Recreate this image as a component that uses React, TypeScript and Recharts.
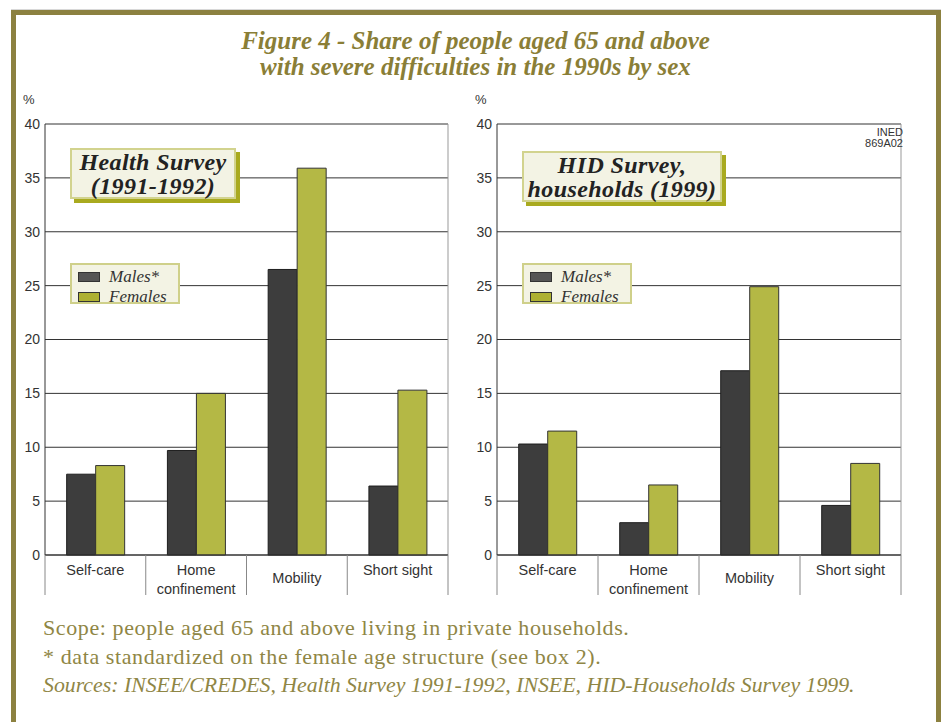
import React from "react";
import { BarChart, Bar, XAxis, YAxis, CartesianGrid, Legend } from "recharts";

const categories = ["Self-care", "Home confinement", "Mobility", "Short sight"];
const healthMales = [7.5, 9.7, 26.5, 6.4];
const healthFemales = [8.3, 15.0, 35.9, 15.3];
const hidMales = [10.3, 3.0, 17.1, 4.6];
const hidFemales = [11.5, 6.5, 24.9, 8.5];
const yTicks = [0, 5, 10, 15, 20, 25, 30, 35, 40];
const seriesNames = ["Males*", "Females"];

const OLIVE = "#8c8140";
const MALE = "#3d3d3d";
const FEMALE = "#b4b845";

const CategoryTick = (props: any) => {
  const { x, y, payload, width, visibleTicksCount, index } = props;
  const label: string = payload.value;
  const sp = label.indexOf(" ");
  const lines = label.length > 12 ? [label.slice(0, sp), label.slice(sp + 1)] : [label];
  // "Mobility" sits lower in the original
  const shift = label === "Mobility" ? 8 : 0;
  const half = width && visibleTicksCount ? width / visibleTicksCount / 2 : 0;
  return (
    <g>
      {half > 0 && <line x1={x - half} x2={x - half} y1={y} y2={y + 40} stroke="#888" />}
      {half > 0 && index === visibleTicksCount - 1 && <line x1={x + half} x2={x + half} y1={y} y2={y + 40} stroke="#888" />}
      <text x={x} y={y} textAnchor="middle" fontFamily="'Liberation Sans', Arial, sans-serif" fontSize={14.5} fill="#333">
        {lines.map((l, i) => (
          <tspan key={i} x={x} dy={i === 0 ? 20 + shift : 19}>{l}</tspan>
        ))}
      </text>
    </g>
  );
};

const LegendBox = ({ payload }: any) => {
  const items = [...(payload || [])].sort((a: any, b: any) => seriesNames.indexOf(a.value) - seriesNames.indexOf(b.value));
  return (
    <div style={{ width: 110, height: 41, boxSizing: "border-box", border: "2px solid #cfd08a", background: "#f3f3e4", paddingTop: 3 }}>
      {items.map((entry: any) => (
        <div key={entry.value} style={{ display: "flex", alignItems: "center", height: 17, marginBottom: 3 }}>
          <span style={{ display: "inline-block", width: 20, height: 8, marginLeft: 6, marginRight: 9, background: entry.color === MALE ? "#555" : "#aeb132", border: "1.5px solid #333" }} />
          <span style={{ fontFamily: "'Liberation Serif', serif", fontStyle: "italic", fontSize: 17, color: "#333" }}>{entry.value}</span>
        </div>
      ))}
    </div>
  );
};

function SurveyChart({ males, females, left, label, boxWidth, ined }: { males: number[]; females: number[]; left: number; label: string[]; boxWidth: number; ined?: boolean }) {
  const data = categories.map((c, i) => ({ name: c, males: males[i], females: females[i] }));
  return (
    <div style={{ position: "absolute", left, top: 0, width: 470, height: 600 }}>
      <div style={{ position: "absolute", left: 23, top: 92, fontFamily: "'Liberation Sans', Arial, sans-serif", fontSize: 13, color: "#333" }}>%</div>
      <BarChart width={470} height={600} data={data} margin={{ top: 124, left: 5, right: left > 0 ? 20 : 21, bottom: 44 }} barCategoryGap="21.5%" barGap={0}>
        <CartesianGrid vertical={false} stroke="#333" />
        <YAxis
          domain={[0, 40]}
          ticks={yTicks}
          width={40}
          tickLine={false}
          tickSize={5}
          tickMargin={0}
          axisLine={{ stroke: "#333" }}
          tick={{ fontFamily: "'Liberation Sans', Arial, sans-serif", fontSize: 14, fill: "#333" }}
        />
        <YAxis yAxisId="r" orientation="right" domain={[0, 40]} width={1} tick={false} tickLine={false} axisLine={{ stroke: "#999" }} />
        <XAxis dataKey="name" height={1} tickSize={0} tickMargin={0} axisLine={{ stroke: "#333" }} tickLine={false} tick={<CategoryTick />} interval={0} />
        <Legend layout="vertical" align="center" verticalAlign="middle" content={<LegendBox />} wrapperStyle={{ left: 70, top: 263, width: 110, height: 41 }} />
        <Bar dataKey="males" name={seriesNames[0]} fill={MALE} stroke="#1e1e1e" strokeWidth={1} isAnimationActive={false} />
        <Bar dataKey="females" name={seriesNames[1]} fill={FEMALE} stroke="#333" strokeWidth={1} isAnimationActive={false} />
      </BarChart>
      <div style={{ position: "absolute", left: 70, top: left > 0 ? 151 : 148, width: boxWidth, height: 51, boxSizing: "border-box", border: "2px solid #d2d38e", background: "#f3f3e4", boxShadow: "4px 4px 0 #a9aa1f", textAlign: "center", fontFamily: "'Liberation Serif', serif", fontStyle: "italic", fontWeight: "bold", fontSize: 24, lineHeight: "24px", letterSpacing: 0.4, color: "#222", paddingTop: 0 }}>
        {label.map((l) => <div key={l}>{l}</div>)}
      </div>
      {ined && (
        <div style={{ position: "absolute", right: 470 - 451, top: 127, textAlign: "right", fontFamily: "'Liberation Sans', Arial, sans-serif", fontSize: 11, lineHeight: "11px", color: "#333" }}>
          <div>INED</div>
          <div>869A02</div>
        </div>
      )}
    </div>
  );
}

export default function App() {
  return (
    <div style={{ position: "absolute", left: 0, top: 0, width: 941, height: 722, overflow: "hidden", background: "#fff" }}>
      <div style={{ position: "absolute", left: 11, top: 9, width: 930, height: 1, background: "#d8d8d8" }} />
      <div style={{ position: "absolute", left: 11, top: 10, width: 930, height: 800, boxSizing: "border-box", border: `5px solid ${OLIVE}` }} />
      <div style={{ position: "absolute", left: 16, top: 28, width: 919, textAlign: "center", fontFamily: "'Liberation Serif', serif", fontStyle: "italic", fontWeight: "bold", fontSize: 25, lineHeight: "26px", color: "#8a7e36" }}>
        <div>Figure 4 - Share of people aged 65 and above</div>
        <div>with severe difficulties in the 1990s by sex</div>
      </div>
      <SurveyChart males={healthMales} females={healthFemales} left={0} label={["Health Survey", "(1991-1992)"]} boxWidth={166} />
      <SurveyChart males={hidMales} females={hidFemales} left={452} label={["HID Survey,", "households (1999)"]} boxWidth={200} ined />
      <div style={{ position: "absolute", left: 43, top: 613, fontFamily: "'Liberation Serif', serif", fontSize: 22, lineHeight: "29px", color: "#8f8645" }}>
        <div style={{ letterSpacing: 0.6 }}>Scope: people aged 65 and above living in private households.</div>
        <div style={{ letterSpacing: 0.6 }}>* data standardized on the female age structure (see box 2).</div>
        <div style={{ fontStyle: "italic", fontSize: 21.8 }}>Sources: INSEE/CREDES, Health Survey 1991-1992, INSEE, HID-Households Survey 1999.</div>
      </div>
    </div>
  );
}
